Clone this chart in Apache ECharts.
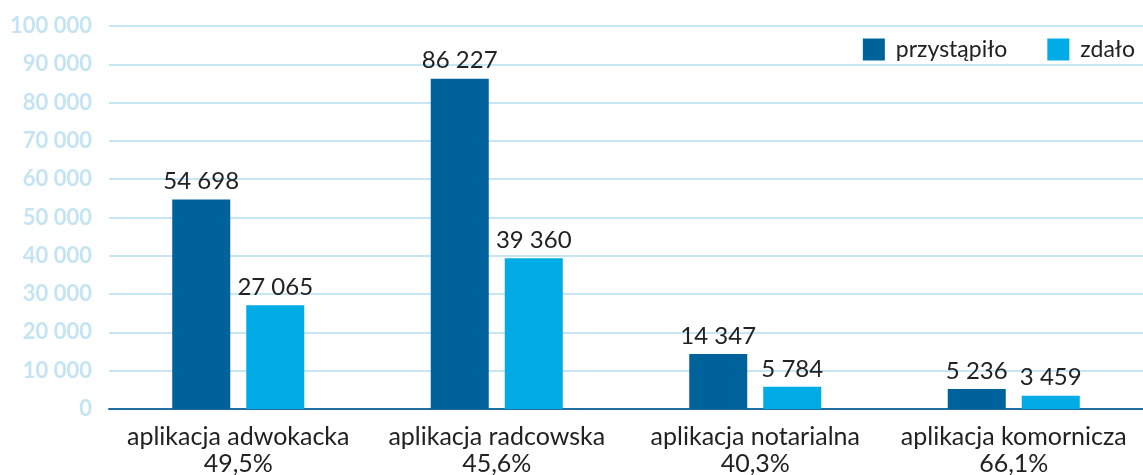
<!DOCTYPE html>
<html><head><meta charset="utf-8">
<script src="https://cdn.jsdelivr.net/npm/echarts@6/dist/echarts.min.js"></script>
<style>html,body{margin:0;padding:0;background:#fff}#c{width:1143px;height:475px}</style>
</head><body><div id="c"></div>
<script>
const categories = ['aplikacja adwokacka','aplikacja radcowska','aplikacja notarialna','aplikacja komornicza'];
const passRates = ['49,5%','45,6%','40,3%','66,1%'];
const przystapilo = [54698, 86227, 14347, 5236];
const zdalo = [27065, 39360, 5784, 3459];
const seriesNames = ['przystąpiło','zdało'];

const fmt = v => String(v).replace(/\B(?=(\d{3})+(?!\d))/g, ' ');
const FONT = 'Lato';
const chart = echarts.init(document.getElementById('c'));
const labelCfg = {show:true, position:'top', distance:6, color:'#222', fontSize:24, fontFamily:FONT, formatter:p=>fmt(p.value)};
chart.setOption({
  animation:false,
  grid:{left:109, right:0, top:26, bottom:66, outerBoundsMode:'none', containLabel:false},
  legend:{right:3, top:33, itemWidth:22, itemHeight:22, itemGap:40, icon:'rect',
    textStyle:{fontSize:23, color:'#222', fontFamily:FONT, padding:[0,0,0,6]}, data:seriesNames},
  xAxis:{type:'category', data:categories,
    axisLine:{lineStyle:{color:'#1f6fa3', width:2}}, axisTick:{show:false},
    axisLabel:{interval:0, hideOverlap:false, fontSize:25, color:'#222', fontFamily:FONT, lineHeight:27, margin:14,
      formatter:(v, i)=> v + '\n' + passRates[i]}},
  yAxis:{type:'value', min:0, max:100000, interval:10000,
    splitLine:{lineStyle:{color:'#c7e6f4', width:2}},
    axisLabel:{fontSize:22, color:'#c5e4f3', fontFamily:FONT, fontWeight:'bold', margin:17, formatter:v=>fmt(v)}},
  series:[
    {name:seriesNames[0], type:'bar', data:przystapilo, barWidth:58, barGap:'27.6%', itemStyle:{color:'#00629b'}, label:labelCfg},
    {name:seriesNames[1], type:'bar', data:zdalo, barWidth:58, itemStyle:{color:'#00abe6'}, label:labelCfg}
  ]
});
</script></body></html>
